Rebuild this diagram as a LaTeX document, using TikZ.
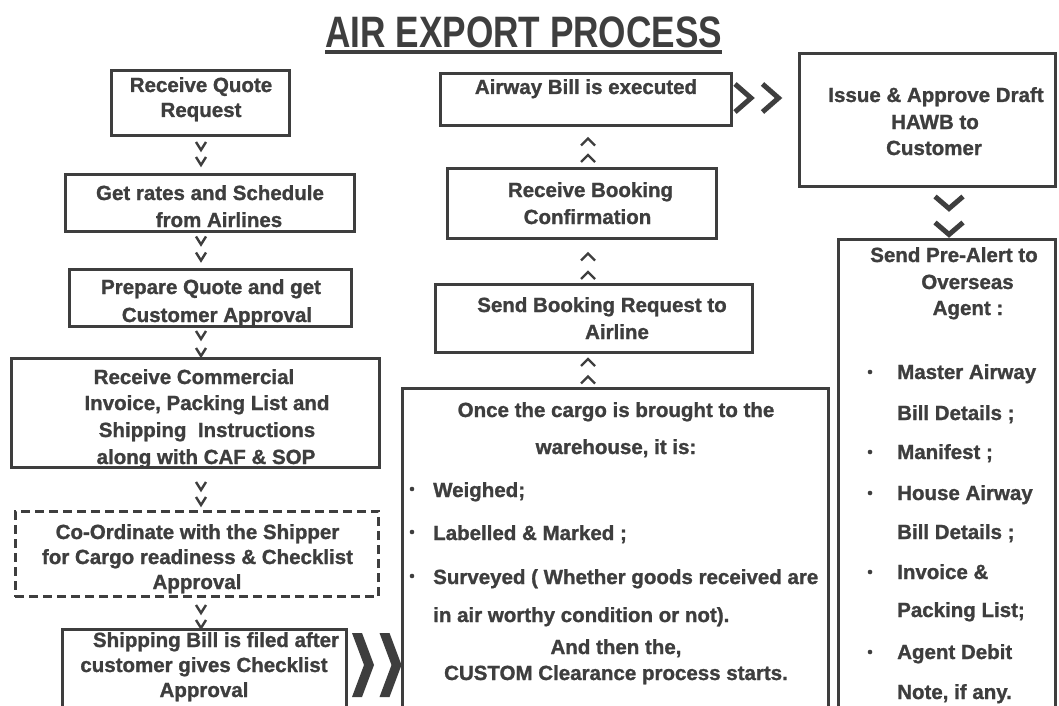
\documentclass[tikz,border=0pt]{standalone}
\usepackage{fontspec}
\setmainfont{Liberation Sans}
\newfontfamily\heavyfont{Liberation Sans Bold}[FakeBold=1.2]
\usetikzlibrary{calc}
\definecolor{ink}{RGB}{62,62,62}
\newcommand\myfont{\fontsize{20.5}{24}\selectfont\heavyfont}
\tikzset{
  box/.style={draw=ink, line width=2.6pt, rectangle, inner sep=0pt},
  lbl/.style={text=ink, font=\myfont, inner sep=0pt, anchor=base},
  lbll/.style={lbl, anchor=base west},
  vsmall/.pic={\draw[ink, line width=2.4pt] (-5,-4) -- (0,4) -- (5,-4);},
  upsmall/.pic={\draw[ink, line width=2.4pt] (-7,3.5) -- (0,-3.5) -- (7,3.5);},
  vbig/.pic={\draw[ink, line width=5pt] (-14,-6.5) -- (0,5.5) -- (14,-6.5);},
  gtmid/.pic={\draw[ink, line width=5pt] (-8,-14) -- (8,0) -- (-8,14);},
  gtbig/.pic={\fill[ink] (-11,-32) -- (-1,-32) -- (11,0) -- (-1,32) -- (-11,32) -- (1,0) -- cycle;}
}
\begin{document}
\begin{tikzpicture}[x=1pt,y=-1pt]
\useasboundingbox (0,0) rectangle (1059,706);
\fill[white] (0,0) rectangle (1059,706);
\clip (0,0) rectangle (1059,706);

% title
\node[anchor=base west, text=ink, inner sep=0pt] (title) at (325,48)
  {\scalebox{0.8}[1]{\fontsize{44}{50}\selectfont\bfseries AIR EXPORT PROCESS}};
\draw[ink, line width=3.5pt] ($(title.base west)+(0,4)$) -- ($(title.base east)+(0,4)$);

% left column boxes
\node[box, minimum width=178.4pt, minimum height=65.4pt] (b1) at (200.5,103) {};
\node[box, minimum width=289.4pt, minimum height=57.4pt] (b2) at (210,203) {};
\node[box, minimum width=282.4pt, minimum height=57.4pt] (b3) at (210.5,298) {};
\node[box, minimum width=368.4pt, minimum height=109.4pt] (b4) at (195.5,413) {};
\node[box, dash pattern=on 9pt off 5pt, minimum width=363.4pt, minimum height=85.4pt] (b5) at (197,554) {};
\node[box, minimum width=284.4pt, minimum height=89.4pt] (b6) at (204.5,674) {};

\node[lbl] (b1a) at (201,92) {Receive Quote};
\node[lbl] (b1b) at (201,117) {Request};
\node[lbl] (b2a) at (210,200) {Get rates and Schedule};
\node[lbl] (b2b) at (219,227) {from Airlines};
\node[lbl] (b3a) at (211,294) {Prepare Quote and get};
\node[lbl] (b3b) at (217,322) {Customer Approval};
\node[lbl] (b4a) at (194,384) {Receive Commercial};
\node[lbl] (b4b) at (207,410) {Invoice, Packing List and};
\node[lbl] (b4c) at (207,437) {Shipping\ \ Instructions};
\node[lbl] (b4d) at (206,464) {along with CAF \& SOP};
\node[lbl] (b5a) at (197.5,539) {Co-Ordinate with the Shipper};
\node[lbl] (b5b) at (197.5,564) {for Cargo readiness \& Checklist};
\node[lbl] (b5c) at (197,589) {Approval};
\node[lbl] (b6a) at (216,647) {Shipping Bill is filed after};
\node[lbl] (b6b) at (204,672) {customer gives Checklist};
\node[lbl] (b6c) at (204,697) {Approval};

% left connectors
\coordinate (lx) at (201,0);
\pic at ($(lx|-b1.south)+(0,9)$) {vsmall};
\pic at ($(lx|-b1.south)+(0,24)$) {vsmall};
\pic at ($(lx|-b2.south)+(0,7.5)$) {vsmall};
\pic at ($(lx|-b2.south)+(0,23.5)$) {vsmall};
\pic at ($(lx|-b3.south)+(0,7)$) {vsmall};
\pic at ($(lx|-b3.south)+(0,24)$) {vsmall};
\pic at ($(lx|-b4.south)+(0,17)$) {vsmall};
\pic at ($(lx|-b4.south)+(0,32)$) {vsmall};
\pic at ($(lx|-b5.south)+(0,11)$) {vsmall};
\pic at ($(lx|-b5.south)+(0,26)$) {vsmall};

% middle column boxes
\node[box, minimum width=291.4pt, minimum height=52.4pt] (m1) at (586,99.5) {};
\node[box, minimum width=269.4pt, minimum height=70.4pt] (m2) at (582,203.5) {};
\node[box, minimum width=317.4pt, minimum height=68.4pt] (m3) at (594,318.5) {};
\node[box, minimum width=426.4pt, minimum height=330.4pt] (m4) at (615.5,553.5) {};

\node[lbl] (m1a) at (586,94) {Airway Bill is executed};
\node[lbl] (m2a) at (590.5,197) {Receive Booking};
\node[lbl] (m2b) at (587.5,224) {Confirmation};
\node[lbl] (m3a) at (602,312) {Send Booking Request to};
\node[lbl] (m3b) at (617,339) {Airline};
\node[lbl] (m4a) at (616,417) {Once the cargo is brought to the};
\node[lbl] (m4b) at (616,454) {warehouse, it is:};
\node[lbll] (m4c) at (433,497) {Weighed;};
\node[lbll] (m4d) at (433,540) {Labelled \& Marked ;};
\node[lbll] (m4e) at (433,584) {Surveyed ( Whether goods received are};
\node[lbll] (m4f) at (433,622) {in air worthy condition or not).};
\node[lbl] (m4g) at (616,654) {And then the,};
\node[lbl] (m4h) at (616,680) {CUSTOM Clearance process starts.};
\foreach \n in {m4c,m4d,m4e}
  \fill[ink] ($(\n.base west)+(-21,-8)$) circle[radius=2.3];

% middle connectors
\coordinate (mx) at (588,0);
\pic at ($(mx|-m1.south)+(0,15)$) {upsmall};
\pic at ($(mx|-m1.south)+(0,31.5)$) {upsmall};
\pic at ($(mx|-m2.south)+(0,17)$) {upsmall};
\pic at ($(mx|-m2.south)+(0,35.5)$) {upsmall};
\pic at ($(mx|-m3.south)+(0,8.5)$) {upsmall};
\pic at ($(mx|-m3.south)+(0,26)$) {upsmall};

% horizontal connectors
\pic at ($(m1.east)+(10,-1.5)$) {gtmid};
\pic at ($(m1.east)+(37.5,-1.5)$) {gtmid};
\pic at ($(b6.north east)+(15,37)$) {gtbig};
\pic at ($(b6.north east)+(42.5,37)$) {gtbig};

% right column boxes
\node[box, minimum width=256.4pt, minimum height=133.4pt] (r1) at (927.5,120) {};
\node[box, minimum width=217.4pt, minimum height=479.4pt] (r2) at (947,479) {};

\node[lbl] (r1a) at (936,102) {Issue \& Approve Draft};
\node[lbl] (r1b) at (935,129) {HAWB to};
\node[lbl] (r1c) at (934,155) {Customer};
\node[lbl] (r2a) at (954,262) {Send Pre-Alert to};
\node[lbl] (r2b) at (967.5,289) {Overseas};
\node[lbl] (r2c) at (968,315) {Agent :};
\node[lbll] (r2d) at (897,379) {Master Airway};
\node[lbll] (r2e) at (897,420) {Bill Details ;};
\node[lbll] (r2f) at (897,459) {Manifest ;};
\node[lbll] (r2g) at (897,500) {House Airway};
\node[lbll] (r2h) at (897,539) {Bill Details ;};
\node[lbll] (r2i) at (897,579) {Invoice \&};
\node[lbll] (r2j) at (897,617) {Packing List;};
\node[lbll] (r2k) at (897,659) {Agent Debit};
\node[lbll] (r2l) at (897,699) {Note, if any.};
\foreach \n in {r2d,r2f,r2g,r2i,r2k}
  \fill[ink] ($(\n.base west)+(-27,-7)$) circle[radius=2.3];

% right connectors
\coordinate (rx) at (949,0);
\pic at ($(rx|-r1.south)+(0,15)$) {vbig};
\pic at ($(rx|-r1.south)+(0,41)$) {vbig};
\end{tikzpicture}
\end{document}
